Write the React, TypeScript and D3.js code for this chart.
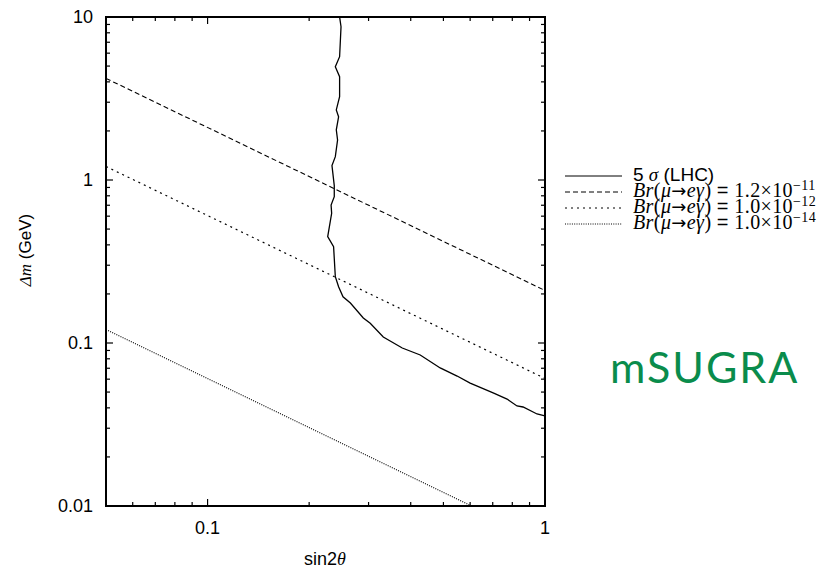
import React from "react";
import * as d3 from "d3";

const W = 825, H = 569;
const M = { left: 106, right: 545, top: 17, bottom: 506 };

const xDomain = [0.05, 1];
const yDomain = [0.01, 10];

const xMajorTicks = [0.1, 1];
const xTickLabels = ["0.1", "1"];
const xMinorTicks = [0.06, 0.07, 0.08, 0.09, 0.2, 0.3, 0.4, 0.5, 0.6, 0.7, 0.8, 0.9];
const yMajorTicks = [0.01, 0.1, 1, 10];
const yTickLabels = ["0.01", "0.1", "1", "10"];
const yMinorTicks = [
  0.02, 0.03, 0.04, 0.05, 0.06, 0.07, 0.08, 0.09,
  0.2, 0.3, 0.4, 0.5, 0.6, 0.7, 0.8, 0.9,
  2, 3, 4, 5, 6, 7, 8, 9,
];

// 5 sigma (LHC) discovery contour: [sin2theta, dm]
const lhcX = [0.2462, 0.2486, 0.2462, 0.2391, 0.2462, 0.2462, 0.2407, 0.2445, 0.2407, 0.2428, 0.2391, 0.2337, 0.2374, 0.2374, 0.2323, 0.2332, 0.227, 0.2363, 0.2391, 0.2445, 0.252, 0.265, 0.2894, 0.3034, 0.3317, 0.3776, 0.4268, 0.4891, 0.549, 0.6, 0.702, 0.772, 0.826, 0.861, 0.947, 1.0];
const lhcY = [10, 8.72, 5.71, 4.96, 4.3, 3.24, 2.69, 2.44, 2.03, 1.76, 1.39, 1.225, 0.924, 0.79, 0.702, 0.625, 0.449, 0.39, 0.255, 0.2214, 0.192, 0.176, 0.1424, 0.1321, 0.1088, 0.0932, 0.0844, 0.0703, 0.0627, 0.0568, 0.0494, 0.0453, 0.0411, 0.0405, 0.0367, 0.0357];

// Br(mu -> e gamma) contours (straight lines on log-log)
const br11X = [0.05, 1];
const br11Y = [4.2, 0.21];
const br12X = [0.05, 1];
const br12Y = [1.21, 0.0606];
const br14X = [0.05, 0.606];
const br14Y = [0.121, 0.01];

const legendLabels = ["5 σ (LHC)", "1.2×10", "1.0×10", "1.0×10"];
const legendExps = ["", "−11", "−12", "−14"];

export default function App() {
  const x = d3.scaleLog().domain(xDomain).range([M.left, M.right]);
  const y = d3.scaleLog().domain(yDomain).range([M.bottom, M.top]);
  const line = d3
    .line<[number, number]>()
    .x((d) => x(d[0]))
    .y((d) => y(d[1]));
  const zip = (a: number[], b: number[]) => a.map((v, i) => [v, b[i]] as [number, number]);

  const series = [
    { pts: zip(lhcX, lhcY), dash: "none", w: 1.3 },
    { pts: zip(br11X, br11Y), dash: "5,3", w: 1.1 },
    { pts: zip(br12X, br12Y), dash: "2,4", w: 1.2 },
    { pts: zip(br14X, br14Y), dash: "1,1.3", w: 1.1 },
  ];

  const sans = "'Liberation Sans', Arial, Helvetica, sans-serif";
  const serif = "'Liberation Serif', 'Times New Roman', serif";
  const legendY = [181, 197, 213, 229];

  return (
    <svg width={W} height={H} style={{ position: "absolute", left: 0, top: 0, background: "#fff" }}>
      <defs>
        <clipPath id="plotclip">
          <rect x={M.left} y={M.top} width={M.right - M.left} height={M.bottom - M.top} />
        </clipPath>
      </defs>
      <rect x={0} y={0} width={W} height={H} fill="#fff" />
      <g clipPath="url(#plotclip)">
        {series.map((s, i) => (
          <path key={i} d={line(s.pts) || ""} fill="none" stroke="#000" strokeWidth={s.w}
            strokeDasharray={s.dash === "none" ? undefined : s.dash} />
        ))}
      </g>
      {/* ticks */}
      <g stroke="#000" strokeWidth={1.2}>
        {xMinorTicks.map((t) => (
          <g key={"xm" + t}>
            <line x1={x(t)} x2={x(t)} y1={M.bottom} y2={M.bottom - 4} />
            <line x1={x(t)} x2={x(t)} y1={M.top} y2={M.top + 4} />
          </g>
        ))}
        {xMajorTicks.map((t) => (
          <g key={"xM" + t}>
            <line x1={x(t)} x2={x(t)} y1={M.bottom} y2={M.bottom - 7} />
            <line x1={x(t)} x2={x(t)} y1={M.top} y2={M.top + 7} />
          </g>
        ))}
        {yMinorTicks.map((t) => (
          <g key={"ym" + t}>
            <line x1={M.left} x2={M.left + 4} y1={y(t)} y2={y(t)} />
            <line x1={M.right} x2={M.right - 4} y1={y(t)} y2={y(t)} />
          </g>
        ))}
        {yMajorTicks.map((t) => (
          <g key={"yM" + t}>
            <line x1={M.left} x2={M.left + 7} y1={y(t)} y2={y(t)} />
            <line x1={M.right} x2={M.right - 7} y1={y(t)} y2={y(t)} />
          </g>
        ))}
      </g>
      <rect x={M.left} y={M.top} width={M.right - M.left} height={M.bottom - M.top}
        fill="none" stroke="#000" strokeWidth={2} />
      {/* tick labels */}
      <g fontFamily={sans} fontSize={18} fill="#000">
        {xMajorTicks.map((t, i) => (
          <text key={"xl" + t} x={x(t)} y={534} textAnchor="middle">{xTickLabels[i]}</text>
        ))}
        {yMajorTicks.map((t, i) => (
          <text key={"yl" + t} x={93} y={y(t) + 6} textAnchor="end">{yTickLabels[i]}</text>
        ))}
      </g>
      {/* axis titles */}
      <text x={325} y={565} textAnchor="middle" fontFamily={sans} fontSize={18}>
        sin2<tspan fontFamily={serif} fontStyle="italic">θ</tspan>
      </text>
      <text transform={`translate(31,250) rotate(-90)`} textAnchor="middle" fontFamily={sans} fontSize={17}>
        <tspan fontFamily={serif} fontStyle="italic">Δm</tspan> (GeV)
      </text>
      {/* legend */}
      <g>
        {series.map((s, i) => (
          <line key={"lg" + i} x1={565} x2={622} y1={legendY[i] - 5} y2={legendY[i] - 5}
            stroke="#000" strokeWidth={1} strokeDasharray={s.dash === "none" ? undefined : s.dash} />
        ))}
        <text x={633} y={legendY[0]} fontFamily={sans} fontSize={19}>
          5 <tspan fontFamily={serif} fontStyle="italic">σ</tspan> (LHC)
        </text>
        {[1, 2, 3].map((i) => (
          <text key={"lt" + i} x={633} y={legendY[i]} fontFamily={serif} fontSize={20} letterSpacing={0.4}>
            <tspan fontStyle="italic">Br</tspan>(<tspan fontStyle="italic">μ</tspan>
            <tspan fontFamily="'DejaVu Sans', sans-serif" fontSize={18}>→</tspan>
            <tspan fontStyle="italic">eγ</tspan>) <tspan fontFamily={sans}>=</tspan> {legendLabels[i]}
            <tspan dy={-7} fontSize={14}>{legendExps[i]}</tspan>
          </text>
        ))}
      </g>
      <text x={610} y={383} fontFamily="Lato, 'Open Sans', sans-serif" fontSize={43} letterSpacing={2} fill="#0a8c4c">
        mSUGRA
      </text>
    </svg>
  );
}
